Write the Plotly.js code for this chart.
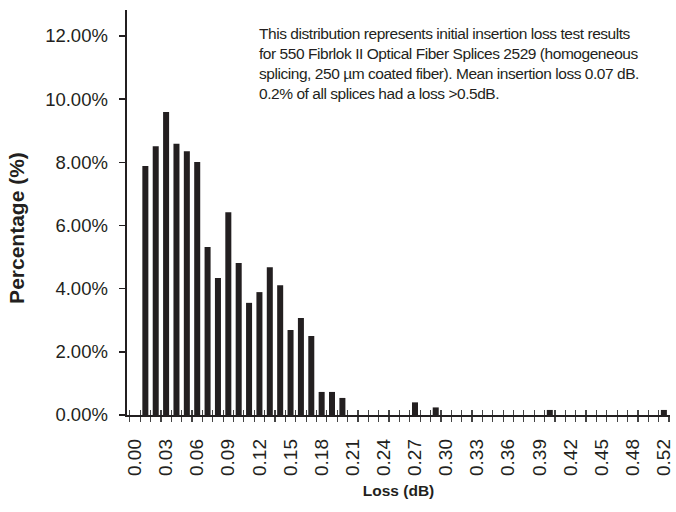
<!DOCTYPE html>
<html>
<head>
<meta charset="utf-8">
<script src="https://cdn.plot.ly/plotly-3.0.1.min.js"></script>
<style>
html,body{margin:0;padding:0;background:#fff;}
#chart{width:676px;height:512px;}
#chart .annotation[data-index="0"] .annotation-text{letter-spacing:-0.45px;}
</style>
</head>
<body>
<div id="chart"></div>
<script>
// Loss bins (dB) shown on the category axis
const lossBins = ["0.00","0.01","0.02","0.03","0.04","0.05","0.06","0.07","0.08","0.09",
  "0.10","0.11","0.12","0.13","0.14","0.15","0.16","0.17","0.18","0.19",
  "0.20","0.21","0.22","0.23","0.24","0.25","0.26","0.27","0.28","0.29",
  "0.30","0.31","0.32","0.33","0.34","0.35","0.36","0.37","0.38","0.39",
  "0.40","0.41","0.42","0.43","0.44","0.45","0.46","0.47","0.48","0.49",
  "0.50","0.52"];
// Percentage of splices in each bin (%)
const percentages = [0, 7.88, 8.51, 9.59, 8.59, 8.35, 8.01, 5.32, 4.34, 6.42,
  4.81, 3.55, 3.89, 4.68, 4.11, 2.69, 3.07, 2.50, 0.73, 0.73,
  0.54, 0, 0, 0, 0, 0, 0, 0.40, 0, 0.24,
  0, 0, 0, 0, 0, 0, 0, 0, 0, 0,
  0.16, 0, 0, 0, 0, 0, 0, 0, 0, 0,
  0, 0.16];
// Labelled bins on the x axis
const labelledBins = ["0.00","0.03","0.06","0.09","0.12","0.15","0.18","0.21","0.24","0.27",
  "0.30","0.33","0.36","0.39","0.42","0.45","0.48","0.52"];
const yTicks = [0, 2, 4, 6, 8, 10, 12];
const noteText = "This distribution represents initial insertion loss test results<br>" +
  "for 550 Fibrlok II Optical Fiber Splices 2529 (homogeneous<br>" +
  "splicing, 250 µm coated fiber). Mean insertion loss 0.07 dB.<br>" +
  "0.2% of all splices had a loss &gt;0.5dB.";
const yTitle = "<b>Percentage (%)</b>";
const xTitle = "<b>Loss (dB)</b>";

const ink = "#231f20";
const tickText = lossBins.map(b => labelledBins.includes(b) ? b : "");

const traces = [
  {type: "bar", x: lossBins, y: percentages, marker: {color: ink}, hoverinfo: "x+y"},
  {type: "scatter", mode: "markers", x: lossBins, y: percentages, xaxis: "x2", yaxis: "y",
   marker: {opacity: 0}, hoverinfo: "skip", showlegend: false}
];

const xCommon = {
  type: "category",
  range: [-0.77, 51.59],
  tickmode: "array",
  tickvals: lossBins,
  tickson: "boundaries",
  ticklen: 5,
  tickwidth: 1.2,
  tickcolor: "#444",
  showgrid: false,
  zeroline: false
};

const layout = {
  width: 676, height: 512,
  margin: {l: 127, r: 6, t: 10, b: 97},
  paper_bgcolor: "#fff", plot_bgcolor: "#fff",
  showlegend: false,
  bargap: 0.42,
  font: {family: "Liberation Sans, Arial, sans-serif", color: ink},
  xaxis: Object.assign({}, xCommon, {
    ticks: "outside",
    ticktext: tickText,
    tickangle: -90,
    ticklabelstandoff: 14,
    tickfont: {size: 19, color: ink},
    showline: true, linecolor: ink, linewidth: 2.4,
    title: {text: xTitle, font: {size: 15.5, color: ink}, standoff: 10}
  }),
  xaxis2: Object.assign({}, xCommon, {
    overlaying: "x", anchor: "y", side: "bottom",
    ticks: "inside", showticklabels: false, showline: false,
    ticktext: tickText
  }),
  yaxis: {
    range: [0, 12.82],
    tickmode: "array",
    tickvals: yTicks,
    ticktext: yTicks.map(v => v.toFixed(2) + "%"),
    ticks: "outside", ticklen: 6, tickwidth: 1.5, tickcolor: ink,
    ticklabelstandoff: 7,
    tickfont: {size: 18.5, color: ink},
    showline: true, linecolor: ink, linewidth: 2.4,
    showgrid: false, zeroline: false
  },
  annotations: [{
    xref: "paper", yref: "paper", x: 0.239, y: 0.968,
    xanchor: "left", yanchor: "top", align: "left",
    showarrow: false,
    text: noteText,
    font: {family: "Liberation Sans, Arial, sans-serif", size: 15.5, color: ink}
  }, {
    xref: "paper", yref: "paper", x: -0.2026, y: 0.462,
    xanchor: "center", yanchor: "middle", textangle: -90,
    showarrow: false,
    text: yTitle,
    font: {family: "Liberation Sans, Arial, sans-serif", size: 21, color: ink}
  }]
};

Plotly.newPlot("chart", traces, layout, {displayModeBar: false, staticPlot: true});
</script>
</body>
</html>
